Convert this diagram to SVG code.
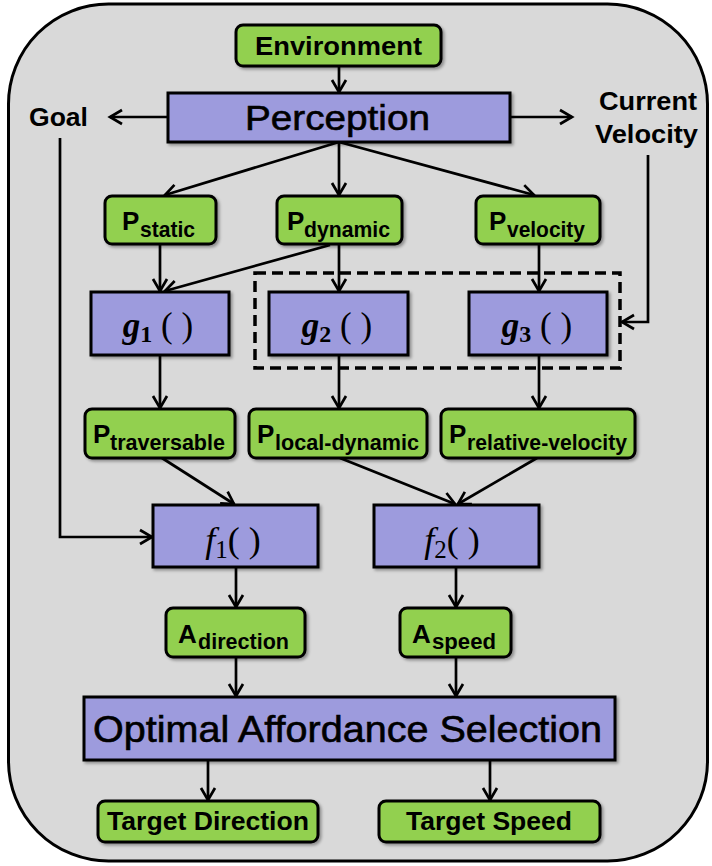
<svg xmlns="http://www.w3.org/2000/svg" width="712" height="866" viewBox="0 0 712 866">
  <style>
    .frame { fill: #d9d9d9; stroke: #000; stroke-width: 3; }
    .green { fill: #92d050; stroke: #000; stroke-width: 3; filter: url(#shadow); }
    .purple { fill: #9d9bdd; stroke: #000; stroke-width: 3; filter: url(#shadow); }
    .dash { fill: none; stroke: #000; stroke-width: 3.5; stroke-dasharray: 11 6; }
    .edge { fill: none; stroke: #000; stroke-width: 2.7; marker-end: url(#arrow); }
    .lbl { font-family: "Liberation Sans", Arial, sans-serif; font-weight: bold; fill: #000; }
    .big { font-family: "Liberation Sans", Arial, sans-serif; fill: #000; stroke: #000; stroke-width: 0.6; }
    .P { font-size: 26px; }
    .sub { font-size: 21.5px; }
    .math { font-family: "Liberation Serif", "Times New Roman", serif; fill: #000; }
  </style>
  <defs>
    <marker id="arrow" markerUnits="userSpaceOnUse" markerWidth="16" markerHeight="16" refX="13" refY="7.5" orient="auto" overflow="visible">
      <path d="M1,0.5 L13,7.5 L1,14.5" fill="none" stroke="#000" stroke-width="2.7" stroke-linejoin="miter"/>
    </marker>
    <filter id="shadow" x="-10%" y="-10%" width="130%" height="140%">
      <feDropShadow dx="2" dy="2" stdDeviation="1.5" flood-color="#000" flood-opacity="0.35"/>
    </filter>
  </defs>

  <!-- outer frame -->
  <rect class="frame" x="8.5" y="4" width="699" height="857" rx="100" ry="100"/>

  <!-- connectors -->
  <g id="connectors">
    <line class="edge" x1="339" y1="66" x2="339" y2="92"/>
    <line class="edge" x1="168" y1="117" x2="110" y2="117"/>
    <line class="edge" x1="510" y1="117" x2="572" y2="117"/>
    <line class="edge" x1="339" y1="142" x2="165" y2="195"/>
    <line class="edge" x1="339" y1="142" x2="339" y2="195"/>
    <line class="edge" x1="339" y1="142" x2="534" y2="195"/>
    <line class="edge" x1="160" y1="244" x2="160" y2="291"/>
    <line class="edge" x1="330" y1="245" x2="165" y2="291"/>
    <line class="edge" x1="339" y1="244" x2="339" y2="291"/>
    <line class="edge" x1="539" y1="245" x2="539" y2="291"/>
    <polyline class="edge" points="648,155 648,322 622,322"/>
    <line class="edge" x1="160" y1="355" x2="160" y2="408"/>
    <line class="edge" x1="339" y1="355" x2="339" y2="408"/>
    <line class="edge" x1="539" y1="355" x2="539" y2="408"/>
    <polyline class="edge" points="60,138 60,537 152,537"/>
    <line class="edge" x1="162" y1="458" x2="234" y2="504"/>
    <line class="edge" x1="340" y1="458" x2="455" y2="504"/>
    <line class="edge" x1="537" y1="458" x2="458" y2="504"/>
    <line class="edge" x1="236" y1="567" x2="236" y2="607"/>
    <line class="edge" x1="456" y1="567" x2="456" y2="607"/>
    <line class="edge" x1="236" y1="657" x2="236" y2="696"/>
    <line class="edge" x1="456" y1="657" x2="456" y2="696"/>
    <line class="edge" x1="208" y1="760" x2="208" y2="800"/>
    <line class="edge" x1="490" y1="760" x2="490" y2="800"/>
  </g>

  <!-- dashed grouping around g2 and g3 -->
  <rect id="g-group" class="dash" x="255" y="273" width="365" height="95"/>

  <g id="environment">
    <rect class="green" x="236" y="25" width="205" height="41" rx="7"/>
    <text class="lbl" x="338.5" y="55" font-size="25" text-anchor="middle" textLength="167" lengthAdjust="spacingAndGlyphs">Environment</text>
  </g>

  <g id="perception">
    <rect class="purple" x="168" y="93" width="342" height="49"/>
    <text class="big" x="337.5" y="130" font-size="35" text-anchor="middle" textLength="185" lengthAdjust="spacingAndGlyphs">Perception</text>
  </g>

  <g id="goal">
    <text class="lbl" x="58.5" y="126" font-size="25" text-anchor="middle" textLength="59" lengthAdjust="spacingAndGlyphs">Goal</text>
  </g>

  <g id="current-velocity">
    <text class="lbl" x="648" y="110" font-size="25" text-anchor="middle" textLength="98" lengthAdjust="spacingAndGlyphs">Current</text>
    <text class="lbl" x="646.5" y="143" font-size="25" text-anchor="middle" textLength="103" lengthAdjust="spacingAndGlyphs">Velocity</text>
  </g>

  <g id="p-static">
    <rect class="green" x="105" y="196" width="111" height="48" rx="7"/>
    <text class="lbl" x="122" y="230"><tspan class="P">P</tspan><tspan class="sub" x="140" y="237" textLength="55" lengthAdjust="spacingAndGlyphs">static</tspan></text>
  </g>

  <g id="p-dynamic">
    <rect class="green" x="277" y="196" width="125" height="48" rx="7"/>
    <text class="lbl" x="287" y="230"><tspan class="P">P</tspan><tspan class="sub" x="304" y="237" textLength="86" lengthAdjust="spacingAndGlyphs">dynamic</tspan></text>
  </g>

  <g id="p-velocity">
    <rect class="green" x="476" y="196" width="124" height="48" rx="7"/>
    <text class="lbl" x="489" y="230"><tspan class="P">P</tspan><tspan class="sub" x="507" y="237" textLength="78" lengthAdjust="spacingAndGlyphs">velocity</tspan></text>
  </g>

  <g id="g1">
    <rect class="purple" x="91" y="292" width="138" height="63"/>
    <text class="math" x="158" y="337" font-size="35" text-anchor="middle"><tspan font-weight="bold" font-style="italic">g</tspan><tspan font-size="24" font-weight="bold" dy="5">1</tspan><tspan dy="-5"> ( )</tspan></text>
  </g>

  <g id="g2">
    <rect class="purple" x="269" y="292" width="139" height="63"/>
    <text class="math" x="337" y="337" font-size="35" text-anchor="middle"><tspan font-weight="bold" font-style="italic">g</tspan><tspan font-size="24" font-weight="bold" dy="5">2</tspan><tspan dy="-5"> ( )</tspan></text>
  </g>

  <g id="g3">
    <rect class="purple" x="469" y="292" width="138" height="63"/>
    <text class="math" x="537" y="337" font-size="35" text-anchor="middle"><tspan font-weight="bold" font-style="italic">g</tspan><tspan font-size="24" font-weight="bold" dy="5">3</tspan><tspan dy="-5"> ( )</tspan></text>
  </g>

  <g id="p-traversable">
    <rect class="green" x="85" y="409" width="150" height="49" rx="7"/>
    <text class="lbl" x="93" y="443"><tspan class="P">P</tspan><tspan class="sub" x="110" y="450" textLength="115" lengthAdjust="spacingAndGlyphs">traversable</tspan></text>
  </g>

  <g id="p-local-dynamic">
    <rect class="green" x="249" y="409" width="178" height="49" rx="7"/>
    <text class="lbl" x="257" y="443"><tspan class="P">P</tspan><tspan class="sub" x="275" y="450" textLength="144" lengthAdjust="spacingAndGlyphs">local-dynamic</tspan></text>
  </g>

  <g id="p-relative-velocity">
    <rect class="green" x="441" y="409" width="194" height="49" rx="7"/>
    <text class="lbl" x="449" y="443"><tspan class="P">P</tspan><tspan class="sub" x="467" y="450" textLength="160" lengthAdjust="spacingAndGlyphs">relative-velocity</tspan></text>
  </g>

  <g id="f1">
    <rect class="purple" x="153" y="505" width="165" height="62"/>
    <text class="math" x="233" y="552" font-size="36" text-anchor="middle"><tspan font-style="italic">f</tspan><tspan font-size="25" dy="6">1</tspan><tspan dy="-6">( )</tspan></text>
  </g>

  <g id="f2">
    <rect class="purple" x="374" y="505" width="165" height="62"/>
    <text class="math" x="452" y="552" font-size="36" text-anchor="middle"><tspan font-style="italic">f</tspan><tspan font-size="25" dy="6">2</tspan><tspan dy="-6">( )</tspan></text>
  </g>

  <g id="a-direction">
    <rect class="green" x="166" y="608" width="139" height="49" rx="7"/>
    <text class="lbl" x="178" y="643"><tspan class="P">A</tspan><tspan class="sub" x="198" y="649" textLength="91" lengthAdjust="spacingAndGlyphs">direction</tspan></text>
  </g>

  <g id="a-speed">
    <rect class="green" x="400" y="608" width="111" height="49" rx="7"/>
    <text class="lbl" x="412" y="643"><tspan class="P">A</tspan><tspan class="sub" x="432" y="649" textLength="64" lengthAdjust="spacingAndGlyphs">speed</tspan></text>
  </g>

  <g id="optimal-affordance-selection">
    <rect class="purple" x="84" y="697" width="531" height="63"/>
    <text class="big" x="347.5" y="742" font-size="36" text-anchor="middle" textLength="509" lengthAdjust="spacingAndGlyphs">Optimal Affordance Selection</text>
  </g>

  <g id="target-direction">
    <rect class="green" x="98" y="801" width="220" height="41" rx="7"/>
    <text class="lbl" x="208" y="830" font-size="25" text-anchor="middle" textLength="202" lengthAdjust="spacingAndGlyphs">Target Direction</text>
  </g>

  <g id="target-speed">
    <rect class="green" x="379" y="801" width="221" height="41" rx="7"/>
    <text class="lbl" x="489" y="830" font-size="25" text-anchor="middle" textLength="166" lengthAdjust="spacingAndGlyphs">Target Speed</text>
  </g>
</svg>
